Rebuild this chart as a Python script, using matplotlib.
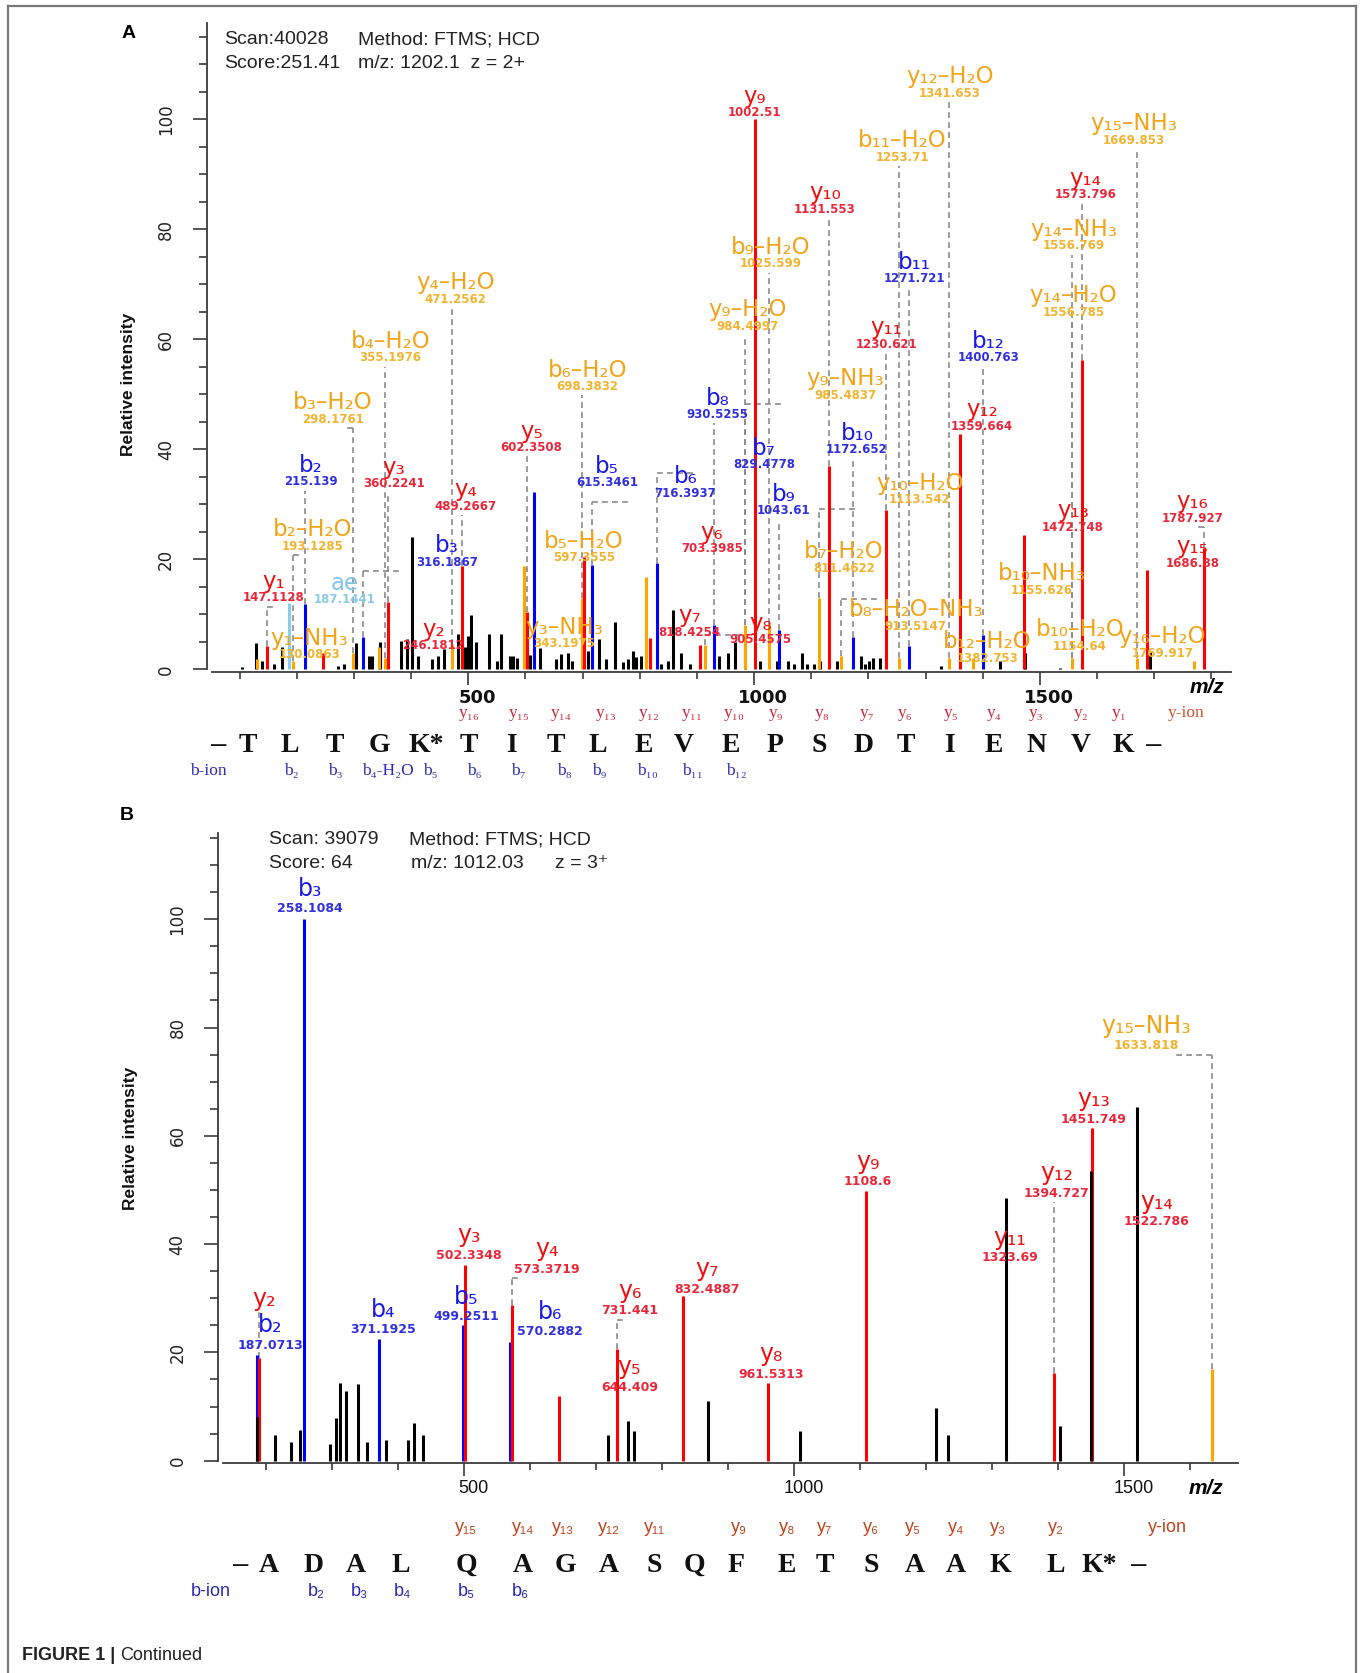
import matplotlib
matplotlib.use("Agg")
import matplotlib.pyplot as plt
import matplotlib.transforms as mtrans
from matplotlib.lines import Line2D
from matplotlib.ticker import FixedLocator, NullFormatter
import numpy as np

W, H = 1363, 1673

# ======================= PANEL A DATA =======================
A_black_mz = [104, 129.3, 138.7, 160.6, 173.9, 271.5, 283.3, 302.8, 326.2, 331.7, 345.8, 382.5, 392.6,
              402.0, 412.2, 437.2, 447.3, 457.5, 482.5, 494.2, 499.7, 504.3, 513.7, 537.2, 551.2, 556.7,
              572.3, 577.8, 585.6, 607.5, 624.7, 654.3, 662.2, 673.9, 681.7, 709.0, 728.6, 740.3, 755.9,
              770.0, 779.3, 788.7, 793.4, 802.8, 837.9, 849.7, 857.5, 871.5, 888.7, 938.0, 955.0, 966.8,
              985.0, 1009.8, 1041.0, 1059.8, 1069.5, 1084.3, 1093.3, 1104.4, 1115.6, 1145.4, 1186.3,
              1193.7, 1201.2, 1208.6, 1219.8, 1327.6, 1430.3, 1474.2, 1536.0, 1692.2]
A_black_int = [0.4, 4.7, 1.5, 1.0, 4.1, 0.6, 0.9, 4.7, 2.5, 2.5, 5.0, 5.1, 5.5,
               24.1, 2.5, 1.8, 2.5, 3.6, 6.5, 4.0, 6.0, 9.8, 5.0, 6.4, 1.5, 6.5,
               2.5, 2.5, 2.0, 2.6, 3.9, 1.8, 2.8, 3.0, 1.5, 3.3, 5.5, 1.8, 8.6,
               1.3, 1.8, 3.4, 2.2, 2.5, 1.0, 1.5, 10.8, 3.0, 1.0, 2.5, 3.0, 5.0,
               5.0, 1.5, 1.5, 1.5, 1.0, 3.0, 1.0, 1.0, 1.5, 1.5, 2.5,
               1.0, 1.5, 2.0, 2.0, 0.6, 1.5, 2.9, 0.3, 3.2]
A_red_mz = [147.11, 246.18, 360.22, 489.27, 602.35, 703.40, 818.43, 905.46, 1002.51, 1131.55,
            1230.62, 1359.66, 1472.75, 1573.80, 1686.88, 1787.93]
A_red_int = [4.2, 3.0, 12.2, 18.8, 10.5, 20.4, 5.6, 4.5, 100.0, 37.0,
             29.0, 42.8, 24.5, 56.2, 18.1, 22.0]
A_blue_mz = [215.14, 316.19, 615.35, 716.39, 829.48, 930.53, 1043.61, 1172.65, 1271.72, 1400.76]
A_blue_int = [11.9, 5.9, 32.2, 18.9, 19.3, 8.0, 7.1, 5.9, 4.2, 6.2]
A_orange_mz = [130.09, 193.13, 298.18, 343.20, 355.20, 471.26, 597.36, 698.38, 811.46, 913.50,
               984.50, 1025.60, 1113.54, 1152.50, 1253.71, 1341.65, 1382.75, 1556.77, 1669.85, 1769.92]
A_orange_int = [1.8, 1.5, 3.0, 4.0, 2.0, 4.5, 18.7, 13.0, 16.7, 4.5,
                8.0, 8.3, 13.0, 2.5, 2.0, 2.0, 2.0, 2.0, 2.0, 1.5]
A_light_mz = [186.0]
A_light_int = [12.0]

# annotations: ion name, m/z text, colour key, peak m/z
A_ann_name = ["y9", "y12-H2O", "y15-NH3", "b11-H2O", "y14", "y10", "y14-NH3", "b9-H2O", "b11",
              "y14-H2O", "y9-H2O", "y4-H2O", "b4-H2O", "y11", "b12", "b6-H2O", "b8", "y9-NH3",
              "b3-H2O", "y12", "y5", "b7", "b10", "b2", "y3", "b5", "b6", "y4", "b9", "y10-H2O",
              "y16", "y13", "b2-H2O", "y6", "b5-H2O", "b3", "b7-H2O", "y15", "b10-NH3", "y1", "ae",
              "y7", "b8-H2O-NH3", "y1-NH3", "y2", "y3-NH3", "y8", "b12-H2O", "b10-H2O", "y16-H2O"]
A_ann_value = ["1002.51", "1341.653", "1669.853", "1253.71", "1573.796", "1131.553", "1556.769",
               "1025.599", "1271.721", "1556.785", "984.4997", "471.2562", "355.1976", "1230.621",
               "1400.763", "698.3832", "930.5255", "985.4837", "298.1761", "1359.664", "602.3508",
               "829.4778", "1172.652", "215.139", "360.2241", "615.3461", "716.3937", "489.2667",
               "1043.61", "1113.542", "1787.927", "1472.748", "193.1285", "703.3985", "597.3555",
               "316.1867", "811.4622", "1686.88", "1155.626", "147.1128", "187.1441", "818.4254",
               "913.5147", "130.0863", "246.1812", "343.1975", "905.4575", "1382.753", "1154.64",
               "1769.917"]
A_ann_color = ["r", "o", "o", "o", "r", "r", "o", "o", "b", "o", "o", "o", "o", "r", "b", "o", "b", "o",
               "o", "r", "r", "b", "b", "b", "r", "b", "b", "r", "b", "o", "r", "r", "o", "r", "o", "b",
               "o", "r", "o", "r", "l", "r", "o", "o", "r", "o", "r", "o", "o", "o"]
A_ann_peak = [1002.51, 1341.65, 1669.85, 1253.71, 1573.80, 1131.55, 1556.77, 1025.60, 1271.72,
              1556.77, 984.50, 471.26, 355.20, 1230.62, 1400.76, 698.38, 930.53, 984.50, 298.18,
              1359.66, 602.35, 829.48, 1172.65, 215.14, 360.22, 615.35, 716.39, 489.27, 1043.61,
              1113.54, 1787.93, 1472.75, 193.13, 703.40, 597.36, 316.19, 811.46, 1686.88, 1152.50,
              147.11, 186.0, 818.43, 913.50, 130.09, 246.18, 343.20, 905.46, 1382.75, 1152.50, 1769.92]
# label placement (layout, data coords)
A_lab_x = [1001, 1343, 1664, 1259, 1580, 1124, 1559, 1029, 1281, 1559, 988, 478, 364, 1232, 1410, 708,
           936, 1160, 263, 1399, 611, 1017, 1180, 224, 370, 743, 880, 495, 1052, 1290, 1767, 1558, 228,
           926, 702, 463, 1157, 1767, 1504, 160, 284, 887, 1283, 222, 439, 668, 1012, 1408, 1570, 1714]
A_lab_y = [104.2, 107.7, 99.2, 96.1, 89.3, 86.6, 80.0, 76.7, 74.0, 67.9, 65.4, 70.3, 59.6, 62.1, 59.6,
           54.4, 49.3, 52.8, 48.5, 47.2, 43.3, 40.2, 42.9, 37.1, 36.7, 36.9, 35.0, 32.6, 31.8, 33.8,
           30.5, 28.8, 25.4, 24.9, 23.3, 22.5, 21.4, 22.3, 17.4, 16.0, 15.6, 9.7, 10.8, 5.6, 7.3, 7.6,
           8.4, 5.0, 7.2, 5.9]

A_y_row = ["y16", "y15", "y14", "y13", "y12", "y11", "y10", "y9", "y8", "y7", "y6", "y5", "y4", "y3",
           "y2", "y1", "y-ion"]
A_seq = ["-", "T", "L", "T", "G", "K*", "T", "I", "T", "L", "E", "V", "E", "P", "S", "D", "T", "I",
         "E", "N", "V", "K", "-"]
A_b_row = ["b-ion", "b2", "b3", "b4-H2O", "b5", "b6", "b7", "b8", "b9", "b10", "b11", "b12"]

# ======================= PANEL B DATA =======================
B_black_mz = [186.6, 214, 238, 252, 297.7, 307, 312, 321.6, 340.5, 354, 382.5, 415, 424.6, 438,
              719, 748, 757.6, 870, 1009, 1215, 1234, 1321, 1403, 1450.5, 1520]
B_black_int = [8.1, 4.7, 3.5, 5.6, 3.1, 7.8, 14.4, 12.8, 14.1, 3.5, 3.9, 3.8, 6.9, 4.7,
               4.7, 7.3, 5.5, 11.1, 5.5, 9.8, 4.8, 48.5, 6.4, 53.5, 65.3]
B_red_mz = [190.0, 502.33, 573.37, 644.41, 731.44, 832.49, 961.53, 1108.6, 1394.72, 1451.75]
B_red_int = [18.9, 36.2, 28.7, 11.9, 20.7, 30.4, 14.4, 49.8, 16.2, 61.4]
B_blue_mz = [187.07, 258.11, 371.19, 499.25, 570.29]
B_blue_int = [19.5, 100.0, 22.4, 25.0, 21.9]
B_orange_mz = [1633.82]
B_orange_int = [16.9]

B_ann_name = ["b3", "y2", "b2", "b4", "y3", "b5", "y4", "b6", "y6", "y5", "y7", "y8", "y9", "y11",
              "y12", "y13", "y14", "y15-NH3"]
B_ann_value = ["258.1084", "", "187.0713", "371.1925", "502.3348", "499.2511", "573.3719", "570.2882",
               "731.441", "644.409", "832.4887", "961.5313", "1108.6", "1323.69", "1394.727",
               "1451.749", "1522.786", "1633.818"]
B_ann_color = ["b", "r", "b", "b", "r", "b", "r", "b", "r", "r", "r", "r", "r", "r", "r", "r", "r", "o"]
B_ann_series = ["b", "r", "b", "b", "r", "b", "r", "b", "r", "r", "r", "r", "r", "k", "r", "r", "k", "o"]
B_ann_peak = [258.11, 190.0, 187.07, 371.19, 502.33, 499.25, 573.37, 570.29, 731.44, 644.41, 832.49,
              961.53, 1108.6, 1321, 1394.72, 1451.75, 1520, 1633.82]
B_lab_x = [267, 197, 206.5, 378, 508, 504, 626, 631, 751, 751, 869, 966, 1112, 1327, 1398, 1454.6,
           1549.5, 1533.5]
B_lab_y = [105.6, 29.9, 25.0, 27.9, 41.6, 30.3, 39.1, 27.5, 31.4, 17.3, 35.4, 19.7, 55.2, 41.2, 53.1,
           66.8, 47.8, 80.3]

B_y_row = ["y15", "y14", "y13", "y12", "y11", "y9", "y8", "y7", "y6", "y5", "y4", "y3", "y2", "y-ion"]
B_seq = ["-", "A", "D", "A", "L", "Q", "A", "G", "A", "S", "Q", "F", "E", "T", "S", "A", "A", "K",
         "L", "K*", "-"]
B_b_row = ["b-ion", "b2", "b3", "b4", "b5", "b6"]

# ======================= STYLES / LAYOUT =======================
LINE_C = {"k": "#000000", "r": "#ff0000", "b": "#0000ff", "o": "#ffa500", "l": "#87cdee"}
NAME_C = {"r": "#ee1010", "b": "#1a1ae8", "o": "#f2a418", "l": "#80c6e8"}
VAL_C = {"r": "#e8283a", "b": "#3030dc", "o": "#f0b430", "l": "#8ccbe8"}
DASH_C = "#8a8a8a"

SUB = str.maketrans("0123456789", "₀₁₂₃₄₅₆₇₈₉")


def ion_text(s):
    return s.translate(SUB).replace("-", "–")


fig = plt.figure(figsize=(W / 100, H / 100), dpi=100)


def px_ax(left, right, top, bottom):
    return fig.add_axes([left / W, 1 - bottom / H, (right - left) / W, (bottom - top) / H])


def fpos(x, y):
    return x / W, 1 - y / H


def setup_axes(ax, xlim, ybot, ytop, xb, yb, xminor, xlabel_bold, mz_pos, xlab_shift):
    ax.set_xlim(*xlim)
    ax.set_ylim(ybot, ytop)
    for s in ["top", "right"]:
        ax.spines[s].set_visible(False)
    ax.spines["left"].set_bounds(*yb)
    ax.spines["bottom"].set_bounds(*xb)
    for s in ["left", "bottom"]:
        ax.spines[s].set_color("#3a3a3a")
        ax.spines[s].set_linewidth(1.3)
    ax.yaxis.set_major_locator(FixedLocator([0, 20, 40, 60, 80, 100]))
    ax.yaxis.set_minor_locator(FixedLocator(list(range(0, 116, 5))))
    ax.xaxis.set_major_locator(FixedLocator([500, 1000, 1500]))
    ax.xaxis.set_minor_locator(FixedLocator(xminor))
    ax.xaxis.set_minor_formatter(NullFormatter())
    ax.tick_params(axis="y", which="major", length=10, width=1.2, color="#3a3a3a", pad=13,
                   labelsize=12, labelcolor="#222222", labelrotation=90)
    ax.tick_params(axis="y", which="minor", length=6, width=1.2, color="#3a3a3a")
    ax.tick_params(axis="x", which="major", length=9, width=1.2, color="#3a3a3a", pad=3,
                   labelsize=13, labelcolor="#111111")
    ax.tick_params(axis="x", which="minor", length=5, width=1.2, color="#3a3a3a")
    for lab in ax.get_yticklabels():
        lab.set_va("center")
        lab.set_family("DejaVu Sans")
    shift = mtrans.ScaledTranslation(xlab_shift / 100.0, 0, fig.dpi_scale_trans)
    for lab in ax.get_xticklabels():
        if xlabel_bold:
            lab.set_fontweight("bold")
            lab.set_family("DejaVu Sans")
        else:
            lab.set_family(["Liberation Sans", "DejaVu Sans"])
        lab.set_transform(lab.get_transform() + shift)
    ax.text(mz_pos[0], mz_pos[1], "m/z", fontsize=15, fontstyle="italic", fontweight="bold",
            family=["Liberation Sans", "DejaVu Sans"], ha="center", va="center", clip_on=False)


def draw_peaks(ax, series, zorders):
    for key, (mz, it) in series.items():
        ax.vlines(mz, 0, it, colors=LINE_C[key], lw=2.2, zorder=zorders[key])


def draw_annotations(ax, series, names, values, colors, lookup, peaks, lx, ly, voff, gap, thr, hcap,
                     nsize, vsize, hw):
    for i, nm in enumerate(names):
        ck = colors[i]
        sk = lookup[i]
        smz, sint = series[sk]
        j = int(np.argmin(np.abs(np.asarray(smz) - peaks[i])))
        pmz, pint = smz[j], sint[j]
        ax.text(lx[i], ly[i], ion_text(nm), color=NAME_C[ck], fontsize=nsize, family="DejaVu Sans",
                ha="center", va="center", zorder=6, clip_on=False)
        if values[i]:
            ax.text(lx[i], ly[i] - voff, values[i], color=VAL_C[ck], fontsize=vsize,
                    fontweight="bold", family="DejaVu Sans", ha="center", va="center", zorder=6)
            cy = ly[i] - voff - gap
        else:
            cy = ly[i] - gap
        if cy - pint < 0.6:
            continue
        ax.plot([pmz, pmz], [pint, cy], color=DASH_C, lw=1.2, ls=(0, (3.5, 2.5)), zorder=1)
        d = lx[i] - pmz
        if abs(d) > thr:
            length = min(max(abs(d) - hw, thr), hcap)
            ax.plot([pmz, pmz + np.sign(d) * length], [cy, cy], color=DASH_C, lw=1.2,
                    ls=(0, (3.5, 2.5)), zorder=1)


def draw_rows(yrow, yx, yy, seq, sx, sy, brow, bx, by, row_family, row_size, ycol, ionlab_col, bcol):
    for t, x in zip(yrow, yx):
        c = ionlab_col if t == "y-ion" else ycol
        fig.text(*fpos(x, yy), t.translate(SUB), color=c, fontsize=row_size, family=row_family,
                 ha="center", va="center")
    for t, x in zip(seq, sx):
        if t == "-":
            txt, fam, fw = "–", ["Liberation Sans", "DejaVu Sans"], "normal"
        else:
            txt, fam, fw = t, ["Liberation Serif", "DejaVu Serif"], "bold"
        fig.text(*fpos(x, sy), txt, color="#111111", fontsize=20, family=fam, fontweight=fw,
                 ha="center", va="center")
    for t, x in zip(brow, bx):
        fig.text(*fpos(x, by), t.translate(SUB), color=bcol, fontsize=row_size, family=row_family,
                 ha="center", va="center")


HDR_FAM = ["Liberation Sans", "DejaVu Sans"]

# ======================= PANEL A =======================
axA = px_ax(207, 1234.2, 20.3, 672.0)
A_series = {"k": (A_black_mz, A_black_int), "o": (A_orange_mz, A_orange_int),
            "b": (A_blue_mz, A_blue_int), "l": (A_light_mz, A_light_int), "r": (A_red_mz, A_red_int)}
setup_axes(axA, (43, 1840), -0.5, 118, (51, 1835), (0, 117.5), list(range(100, 1801, 100)), True,
           (1792, -3.4), 9)
draw_peaks(axA, A_series, {"k": 2, "o": 3, "b": 3, "l": 3, "r": 4})
draw_annotations(axA, A_series, A_ann_name, A_ann_value, A_ann_color, A_ann_color, A_ann_peak,
                 A_lab_x, A_lab_y, 3.0, 1.6, 12, 70, 16.5, 8.5, 55)

fig.text(*fpos(129, 33), "A", fontsize=14, fontweight="bold", family=HDR_FAM, ha="center", va="center")
fig.text(*fpos(224, 40), "Scan:40028", fontsize=14, family=HDR_FAM, ha="left", va="center", color="#222")
fig.text(*fpos(358, 40), "Method: FTMS; HCD", fontsize=14, family=HDR_FAM, ha="left", va="center", color="#222")
fig.text(*fpos(224, 63), "Score:251.41", fontsize=14, family=HDR_FAM, ha="left", va="center", color="#222")
fig.text(*fpos(358, 63), "m/z: 1202.1  z = 2+", fontsize=14, family=HDR_FAM, ha="left", va="center", color="#222")
fig.text(*fpos(128, 384), "Relative intensity", fontsize=12.5, fontweight="bold", family=HDR_FAM,
         rotation=90, ha="center", va="center", color="#111")

A_y_row_x = [468.9, 518.8, 561.5, 605.8, 649.3, 692, 734.7, 776.6, 822.5, 867.6, 905.5, 951.4, 994.1,
             1036, 1081, 1118.9, 1185.8]
A_seq_x = [219.2, 247.4, 290.1, 335.2, 379.5, 426.2, 468.9, 511.6, 555.9, 597.8, 643.7, 684, 730.7, 775,
           819.3, 863.6, 905.5, 949.8, 994.1, 1036.8, 1081.1, 1123, 1153.6]
A_b_row_x = [208.7, 291.7, 335.2, 388.4, 430.2, 474.5, 518.8, 564.8, 599.4, 647.7, 692, 736.3]
draw_rows(A_y_row, A_y_row_x, 713, A_seq, A_seq_x, 745, A_b_row, A_b_row_x, 771.5,
          ["Liberation Serif", "DejaVu Serif"], 12.5, "#c8283a", "#d0502a", "#2b2bb0")

# ======================= PANEL B =======================
axB = px_ax(218.4, 1249.4, 821.8, 1463.4)
B_series = {"o": (B_orange_mz, B_orange_int), "b": (B_blue_mz, B_blue_int),
            "r": (B_red_mz, B_red_int), "k": (B_black_mz, B_black_int)}
setup_axes(axB, (128.3, 1690), -0.5, 118, (136, 1672), (0, 116), list(range(200, 1601, 100)), False,
           (1624, -5.2), 10)
draw_peaks(axB, B_series, {"o": 2, "b": 2, "r": 3, "k": 4})
draw_annotations(axB, B_series, B_ann_name, B_ann_value, B_ann_color, B_ann_series, B_ann_peak,
                 B_lab_x, B_lab_y, 3.7, 1.7, 12, 100, 17, 9, 40)

fig.text(*fpos(127, 815), "B", fontsize=14, fontweight="bold", family=HDR_FAM, ha="center", va="center")
fig.text(*fpos(269, 840), "Scan: 39079", fontsize=14, family=HDR_FAM, ha="left", va="center", color="#222")
fig.text(*fpos(409, 840), "Method: FTMS; HCD", fontsize=14, family=HDR_FAM, ha="left", va="center", color="#222")
fig.text(*fpos(269, 864), "Score: 64", fontsize=14, family=HDR_FAM, ha="left", va="center", color="#222")
fig.text(*fpos(411, 864), "m/z: 1012.03", fontsize=14, family=HDR_FAM, ha="left", va="center", color="#222")
fig.text(*fpos(555, 864), "z = 3⁺", fontsize=14, family=HDR_FAM, ha="left", va="center", color="#222")
fig.text(*fpos(130, 1138), "Relative intensity", fontsize=12.5, fontweight="bold", family=HDR_FAM,
         rotation=90, ha="center", va="center", color="#111")

B_y_row_x = [466.5, 522.9, 563.2, 609.1, 654.2, 738.7, 787, 825, 870.9, 913.5, 956.2, 998.1, 1056.1,
             1167.3]
B_seq_x = [241, 269.2, 313.5, 356.1, 400.4, 466.5, 522.9, 565.6, 609.1, 654.2, 694.4, 736.3, 787, 825,
           870.9, 915.2, 956.2, 1000.5, 1056.1, 1098.8, 1139.1]
B_b_row_x = [210.4, 315.9, 359.4, 402, 466.5, 520.5]
draw_rows(B_y_row, B_y_row_x, 1528, B_seq, B_seq_x, 1565, B_b_row, B_b_row_x, 1591.5,
          ["Liberation Sans Narrow", "Liberation Sans", "DejaVu Sans"], 13, "#c0441e", "#c0441e",
          "#2b2bb0")

# ======================= FRAME & CAPTION =======================
fc = "#7a7a7a"
fig.add_artist(Line2D([7.5 / W, 7.5 / W], [0, 1 - 6 / H], transform=fig.transFigure, color=fc, lw=1.6))
fig.add_artist(Line2D([1355.5 / W, 1355.5 / W], [0, 1 - 6 / H], transform=fig.transFigure, color=fc, lw=1.6))
fig.add_artist(Line2D([7.5 / W, 1355.5 / W], [1 - 6 / H, 1 - 6 / H], transform=fig.transFigure, color=fc, lw=1.6))

cap1 = fig.text(*fpos(22, 1655), "FIGURE 1 |", fontsize=13, fontweight="bold",
                family=["Liberation Sans", "DejaVu Sans"], ha="left", va="center", color="#222")
r = fig.canvas.get_renderer()
bb = cap1.get_window_extent(renderer=r)
fig.text(bb.x1 / W + 5 / W, 1 - 1655 / H, "Continued", fontsize=13,
         family=["Liberation Sans", "DejaVu Sans"], ha="left", va="center", color="#222")

fig.savefig("out.png", dpi=100)
